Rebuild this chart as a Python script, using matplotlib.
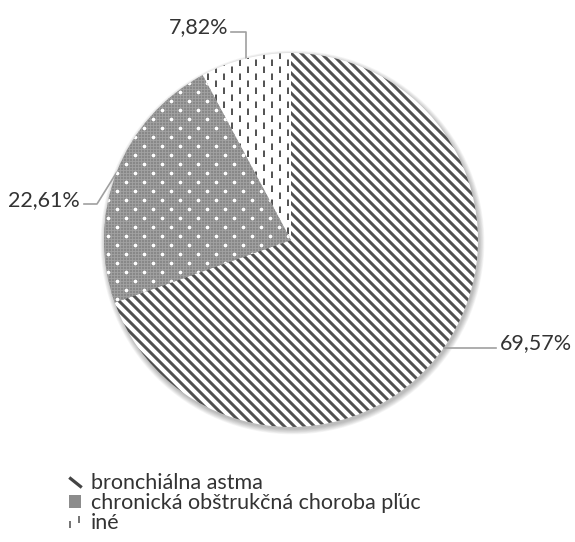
import numpy as np
import matplotlib
matplotlib.use("Agg")
import matplotlib.pyplot as plt
from matplotlib.collections import LineCollection
from matplotlib.patches import Patch, Circle
from matplotlib.lines import Line2D
from matplotlib.path import Path

plt.rcParams['font.family'] = ['Lato', 'DejaVu Sans']
plt.rcParams['lines.scale_dashes'] = False
plt.rcParams['hatch.linewidth'] = 2.2

# ---- data ----
categories = ["bronchiálna astma", "chronická obštrukčná choroba pľúc", "iné"]
values = [69.57, 22.61, 7.82]
value_labels = ["69,57%", "22,61%", "7,82%"]

W, H = 575, 542
DPI = 100
fig = plt.figure(figsize=(W / DPI, H / DPI), dpi=DPI)
ax = fig.add_axes([0, 0, 1, 1])

def Y(py):
    return H - py

CX, CY, R = 291, Y(240), 187
TXT = '#333333'
LEAD = '#a0a0a0'
PX = 72.0 / DPI  # points per pixel

# soft shadow
for k in range(8):
    ax.add_patch(Circle((CX + 1.5, CY - 2.5), R + 0.7 * k, color='k',
                        alpha=0.035, lw=0, zorder=0))

wedges, _ = ax.pie(values, startangle=90, counterclock=False,
                   center=(CX, CY), radius=R, frame=True,
                   colors=['white', '#888888', 'white'],
                   wedgeprops=dict(linewidth=0))
for w in wedges:
    w.set_zorder(1)

# pattern 1: diagonal stripes "\"
segs = []
for c in np.arange(-1200, 1400, 10.0):
    segs.append([(-100, c + 100), (700, c - 700)])
lc = LineCollection(segs, colors='#505050', linewidths=3 * PX, zorder=2)
lc.set_clip_path(wedges[0])
ax.add_collection(lc)

# pattern 2: gray texture (fine grid) with white dots
grid = []
for xx in np.arange(0, W, 3.0):
    grid.append([(xx, 0), (xx, H)])
for yy in np.arange(0, H, 3.0):
    grid.append([(0, yy), (W, yy)])
lg = LineCollection(grid, colors='#a4a4a4', linewidths=0.8 * PX, zorder=1.5)
lg.set_clip_path(wedges[1])
ax.add_collection(lg)
pts = []
for j, yy in enumerate(np.arange(0, H, 9.0)):
    off = 9.0 if j % 2 else 0.0
    for xx in np.arange(off, W, 18.0):
        pts.append((xx, yy))
pts = np.array(pts)
sc = ax.scatter(pts[:, 0], pts[:, 1], s=7, c='white', linewidths=0, zorder=2)
sc.set_clip_path(wedges[1])

# pattern 3: vertical dashed lines
for i, xx in enumerate(np.arange(0, W, 8.0)):
    off = 0.0 if i % 2 == 0 else 7.0 * PX
    lcd = LineCollection([[(xx, 0), (xx, H)]], colors='#555555',
                         linewidths=2 * PX, zorder=2,
                         linestyles=[(off, (6.5 * PX, 7.5 * PX))])
    lcd.set_clip_path(wedges[2])
    ax.add_collection(lcd)

# labels with leader lines
def edge_point(w):
    mid = np.deg2rad((w.theta1 + w.theta2) / 2)
    return CX + R * np.cos(mid), CY + R * np.sin(mid)

fs = 15.5
# 69,57%
ex, ey = edge_point(wedges[0])
ax.plot([ex, 496], [ey, ey], color=LEAD, lw=1.2, zorder=3)
ax.text(500, ey - 1.5, value_labels[0], ha='left', va='baseline',
        fontsize=fs, color=TXT)
# 22,61%
ex, ey = edge_point(wedges[1])
ax.plot([84, 97, ex], [Y(204), Y(204), ey], color=LEAD, lw=1.2, zorder=0.5)
ax.text(80, Y(206.5), value_labels[1], ha='right', va='baseline',
        fontsize=fs, color=TXT)
# 7,82%
ex, ey = edge_point(wedges[2])
ax.plot([231, ex, ex], [Y(32), Y(32), ey], color=LEAD, lw=1.2, zorder=0.5)
ax.text(228, Y(33), value_labels[2], ha='right', va='baseline',
        fontsize=fs, color=TXT)

# legend
stroke = Path([(-1, 0.8), (1, -0.8)], [Path.MOVETO, Path.LINETO])
dashes = Path([(-0.8, -1), (-0.8, 0.2), (0.6, -0.1), (0.6, 0.9)],
              [Path.MOVETO, Path.LINETO, Path.MOVETO, Path.LINETO])
handles = [
    Line2D([], [], linestyle='none', marker=stroke, markersize=9,
           markeredgewidth=3.2 * PX * 1.0, markeredgecolor='#444444',
           markerfacecolor='none'),
    Patch(facecolor='#8c8c8c', edgecolor='#8c8c8c', linewidth=0),
    Line2D([], [], linestyle='none', marker=dashes, markersize=9,
           markeredgewidth=1.6 * PX, markeredgecolor='#555555',
           markerfacecolor='none'),
]
leg = ax.legend(handles, categories, loc='upper left',
                bbox_to_anchor=(69 / W, 1 - 473 / H), frameon=False,
                fontsize=fs, handlelength=0.55, handleheight=0.55,
                handletextpad=0.45, labelspacing=0.0, borderpad=0,
                borderaxespad=0)
for t in leg.get_texts():
    t.set_color(TXT)

ax.set_xlim(0, W)
ax.set_ylim(0, H)
ax.set_aspect('equal')
ax.axis('off')
fig.savefig('out.png', dpi=DPI)
